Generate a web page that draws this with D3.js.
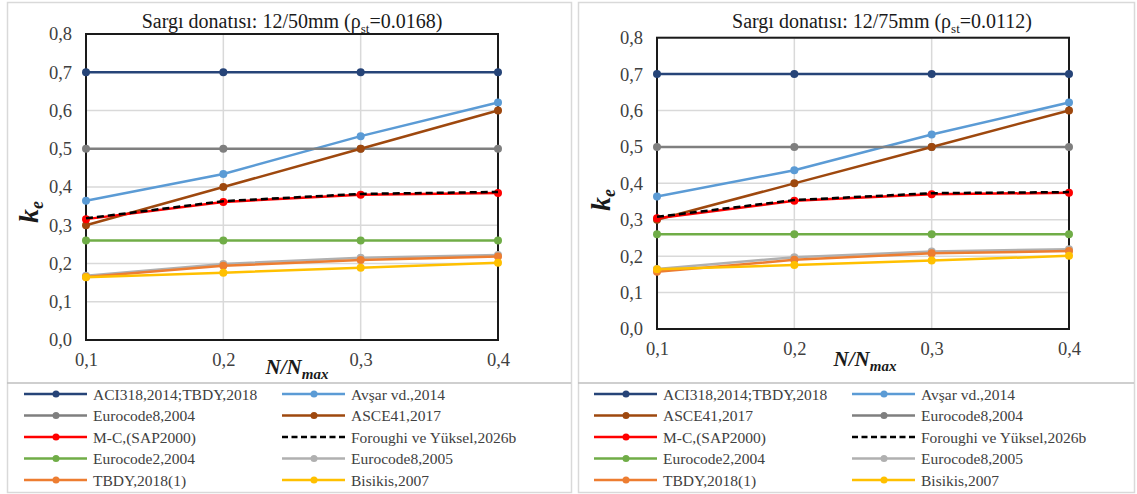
<!DOCTYPE html>
<html><head><meta charset="utf-8">
<script src="https://cdn.jsdelivr.net/npm/d3@7"></script>
<style>body{margin:0;background:#fff;} svg{display:block;} svg text{font-family:"Liberation Serif","Times New Roman",serif;}</style>
</head><body>
<svg id="chart" width="1137" height="494"></svg>
<script>
const xValues = [0.1, 0.2, 0.3, 0.4];
const xTickLabels = ["0,1", "0,2", "0,3", "0,4"];
const yTickValues = [0, 0.1, 0.2, 0.3, 0.4, 0.5, 0.6, 0.7, 0.8];
const yTickLabels = ["0,0", "0,1", "0,2", "0,3", "0,4", "0,5", "0,6", "0,7", "0,8"];

const seriesNames = ["ACI318,2014;TBDY,2018", "Avşar vd.,2014", "Eurocode8,2004", "ASCE41,2017",
  "M-C,(SAP2000)", "Foroughi ve Yüksel,2026b", "Eurocode2,2004", "Eurocode8,2005", "TBDY,2018(1)", "Bisikis,2007"];
const seriesColors = ["#264478", "#5B9BD5", "#7F7F7F", "#9E480E", "#FF0000", "#000000", "#70AD47", "#B0B0B0", "#ED7D31", "#FFC000"];
const seriesDashed = [false, false, false, false, false, true, false, false, false, false];

// Panel 1: 12/50mm
const p1_ACI = [0.70, 0.70, 0.70, 0.70];
const p1_Avsar = [0.364, 0.434, 0.533, 0.621];
const p1_EC8_2004 = [0.50, 0.50, 0.50, 0.50];
const p1_ASCE = [0.30, 0.40, 0.50, 0.60];
const p1_MC = [0.316, 0.361, 0.380, 0.384];
const p1_Foroughi = [0.318, 0.363, 0.382, 0.387];
const p1_EC2 = [0.26, 0.26, 0.26, 0.26];
const p1_EC8_2005 = [0.168, 0.199, 0.215, 0.222];
const p1_TBDY1 = [0.165, 0.194, 0.209, 0.218];
const p1_Bisikis = [0.164, 0.176, 0.189, 0.202];

// Panel 2: 12/75mm
const p2_ACI = [0.70, 0.70, 0.70, 0.70];
const p2_Avsar = [0.364, 0.436, 0.534, 0.622];
const p2_EC8_2004 = [0.50, 0.50, 0.50, 0.50];
const p2_ASCE = [0.30, 0.40, 0.50, 0.60];
const p2_MC = [0.304, 0.352, 0.370, 0.374];
const p2_Foroughi = [0.308, 0.354, 0.373, 0.376];
const p2_EC2 = [0.26, 0.26, 0.26, 0.26];
const p2_EC8_2005 = [0.165, 0.197, 0.213, 0.219];
const p2_TBDY1 = [0.157, 0.190, 0.208, 0.214];
const p2_Bisikis = [0.164, 0.176, 0.188, 0.201];

const panel1Values = [p1_ACI, p1_Avsar, p1_EC8_2004, p1_ASCE, p1_MC, p1_Foroughi, p1_EC2, p1_EC8_2005, p1_TBDY1, p1_Bisikis];
const panel2Values = [p2_ACI, p2_Avsar, p2_EC8_2004, p2_ASCE, p2_MC, p2_Foroughi, p2_EC2, p2_EC8_2005, p2_TBDY1, p2_Bisikis];
const panel1LegendOrder = [0, 1, 2, 3, 4, 5, 6, 7, 8, 9];
const panel2LegendOrder = [0, 1, 3, 2, 4, 5, 6, 7, 8, 9];

const svg = d3.select("#chart");
const FONT = '"Liberation Serif","Times New Roman",serif';

function drawPanel(cfg) {
  const g = svg.append("g");
  g.append("rect").attr("x", cfg.frame[0] + 0.5).attr("y", cfg.frame[1] + 0.5)
    .attr("width", cfg.frame[2]).attr("height", cfg.frame[3])
    .attr("fill", "#fff").attr("stroke", "#d9d9d9").attr("stroke-width", 1.5);

  const x = d3.scaleLinear().domain([0.1, 0.4]).range([cfg.left, cfg.right]);
  const y = d3.scaleLinear().domain([0, 0.8]).range([cfg.bottom, cfg.top]);

  g.append("g").selectAll("line").data(yTickValues).join("line")
    .attr("x1", cfg.left).attr("x2", cfg.right).attr("y1", d => y(d)).attr("y2", d => y(d))
    .attr("stroke", "#d9d9d9").attr("stroke-width", 1.5);
  g.append("g").selectAll("line").data(xValues).join("line")
    .attr("x1", d => x(d)).attr("x2", d => x(d)).attr("y1", cfg.top).attr("y2", cfg.bottom)
    .attr("stroke", "#d9d9d9").attr("stroke-width", 1.5);

  g.append("rect").attr("x", cfg.left).attr("y", cfg.top)
    .attr("width", cfg.right - cfg.left).attr("height", cfg.bottom - cfg.top)
    .attr("fill", "none").attr("stroke", "#1a1a1a").attr("stroke-width", 2);

  const yAxis = d3.axisLeft(y).tickValues(yTickValues).tickFormat((d, i) => yTickLabels[i]).tickSize(0).tickPadding(14);
  const ya = g.append("g").attr("transform", `translate(${cfg.left},0)`).call(yAxis)
    .attr("font-family", null).attr("font-size", null);
  ya.select(".domain").remove();
  ya.selectAll("text").style("font-family", FONT).style("font-size", "18.5px").attr("fill", "#404040");

  const xAxis = d3.axisBottom(x).tickValues(xValues).tickFormat((d, i) => xTickLabels[i]).tickSize(0).tickPadding(13);
  const xa = g.append("g").attr("transform", `translate(0,${cfg.bottom})`).call(xAxis)
    .attr("font-family", null).attr("font-size", null);
  xa.select(".domain").remove();
  xa.selectAll("text").style("font-family", FONT).style("font-size", "18.5px").attr("fill", "#404040");

  const t = g.append("text").attr("x", cfg.titleX).attr("y", cfg.titleY).attr("text-anchor", "middle")
    .style("font-family", FONT).style("font-size", "20px").attr("fill", "#1a1a1a");
  t.append("tspan").text(cfg.titlePre + "(ρ");
  t.append("tspan").style("font-size", "13px").attr("dy", 5).text("st");
  t.append("tspan").attr("dy", -5).text(cfg.titlePost);

  const ky = g.append("text").attr("transform", `translate(${cfg.kx},${cfg.ky}) rotate(-90)`)
    .attr("text-anchor", "middle").style("font-family", FONT).style("font-weight", "bold")
    .style("font-style", "italic").style("font-size", "28px").attr("fill", "#1a1a1a");
  ky.append("tspan").text("k");
  ky.append("tspan").style("font-size", "18px").attr("dy", 5).text("e");

  const nx = g.append("text").attr("x", cfg.nx).attr("y", cfg.ny).attr("text-anchor", "middle")
    .style("font-family", FONT).style("font-weight", "bold").style("font-style", "italic")
    .style("font-size", "21px").attr("fill", "#1a1a1a");
  nx.append("tspan").text("N/N");
  nx.append("tspan").style("font-size", "15px").attr("dy", 5).text("max");

  const line = d3.line().x((d, i) => x(xValues[i])).y(d => y(d));
  cfg.values.forEach((vals, si) => {
    const sg = g.append("g");
    sg.append("path").datum(vals).attr("d", line).attr("fill", "none")
      .attr("stroke", seriesColors[si]).attr("stroke-width", 2.5)
      .attr("stroke-dasharray", seriesDashed[si] ? "7,4" : null);
    if (!seriesDashed[si]) {
      sg.selectAll("circle").data(vals).join("circle")
        .attr("cx", (d, i) => x(xValues[i])).attr("cy", d => y(d)).attr("r", 4)
        .attr("fill", seriesColors[si]);
    }
  });

  g.append("line").attr("x1", cfg.frame[0]).attr("x2", cfg.frame[0] + cfg.frame[2])
    .attr("y1", cfg.sepY).attr("y2", cfg.sepY).attr("stroke", "#bfbfbf").attr("stroke-width", 1.5);

  cfg.legendOrder.forEach((si, k) => {
    const col = k % 2, row = Math.floor(k / 2);
    const lx = cfg.legX[col], ly = cfg.legY0 + row * cfg.legDY;
    g.append("line").attr("x1", lx).attr("x2", lx + 63).attr("y1", ly).attr("y2", ly)
      .attr("stroke", seriesColors[si]).attr("stroke-width", 2.5)
      .attr("stroke-dasharray", seriesDashed[si] ? "6,3.5" : null);
    if (!seriesDashed[si]) {
      g.append("circle").attr("cx", lx + 32).attr("cy", ly).attr("r", 3.5).attr("fill", seriesColors[si]);
    }
    g.append("text").attr("x", lx + 69).attr("y", ly + 5.5).style("font-family", FONT)
      .style("font-size", "15.5px").attr("fill", "#404040").text(seriesNames[si]);
  });
}

drawPanel({
  frame: [7, 2, 564, 490],
  left: 86, right: 498, top: 34, bottom: 340,
  titleX: 292, titleY: 28, titlePre: "Sargı donatısı: 12/50mm ", titlePost: "=0.0168)",
  kx: 38, ky: 212, nx: 297, ny: 374,
  values: panel1Values, legendOrder: panel1LegendOrder,
  sepY: 383, legX: [24, 282], legY0: 394, legDY: 21.5
});
drawPanel({
  frame: [578, 2, 556, 490],
  left: 657, right: 1069, top: 37.7, bottom: 329,
  titleX: 882, titleY: 28, titlePre: "Sargı donatısı: 12/75mm ", titlePost: "=0.0112)",
  kx: 610, ky: 200, nx: 865, ny: 366,
  values: panel2Values, legendOrder: panel2LegendOrder,
  sepY: 383, legX: [594, 852], legY0: 394, legDY: 21.5
});
</script>
</body></html>
